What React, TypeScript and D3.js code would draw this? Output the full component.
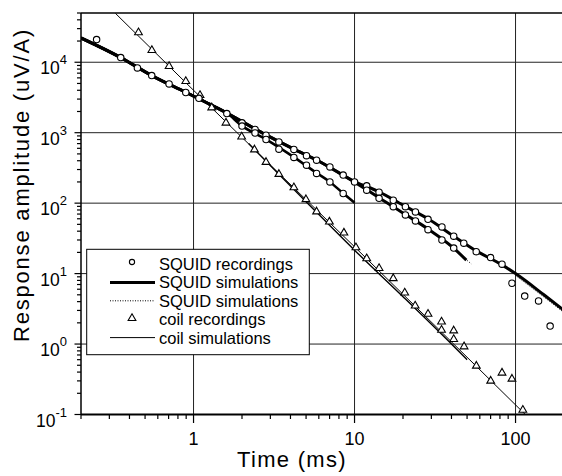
import React from 'react';
import * as d3 from 'd3';

// axis ticks
const xMajor = [1, 10, 100];
const xLabels = ['1', '10', '100'];
const yMajor = [0.1, 1, 10, 100, 1000, 10000];
const yExponents = ['-1', '0', '1', '2', '3', '4'];

// SQUID simulations (thick lines)
const squidCommon: [number, number][] = [
  [0.2, 22100], [0.353, 11650], [0.55, 6470], [0.895, 3750], [1.2, 2680], [1.61, 1900],
];
const squidLongTail: [number, number][] = [
  [2.82, 930], [4.2, 585], [5.81, 410], [10, 203], [14.2, 145], [20.7, 90], [28.6, 60],
  [41.3, 34], [57, 21], [82.4, 13.3], [100, 10], [150, 5], [200, 3],
];
const squidMidTail: [number, number][] = [
  [2.82, 930], [4.2, 585], [5.81, 410], [8.5, 250], [11.9, 155], [14.2, 119], [20.7, 69],
  [28.6, 43], [41.3, 23], [49.5, 15.5],
];
const squidShortTail: [number, number][] = [
  [2.0, 1250], [2.82, 805], [4.2, 450], [5.81, 268], [7.03, 200], [8.5, 138], [10, 101],
];
// SQUID simulations (dotted)
const squidDottedA: [number, number][] = [[100, 9.4], [150, 4.65], [200, 2.8]];
const squidDottedB: [number, number][] = [[38, 26], [53, 13.8]];

// SQUID recordings (circles)
const squidRec: [number, number][] = [
  [0.25, 21000], [0.353, 11650], [0.448, 8300], [0.55, 6470], [0.705, 4920], [0.895, 3720],
  [1.08, 3080], [1.61, 1870],
  [2.0, 1380], [2.41, 1110], [2.82, 920], [3.39, 740], [4.2, 578], [5.03, 472], [5.81, 407],
  [7.03, 327], [8.5, 250], [10, 200],
  [2.0, 1240], [2.41, 990], [2.82, 800], [3.39, 583], [4.2, 445], [5.03, 346], [5.81, 264],
  [7.03, 200], [8.5, 137],
  [11.9, 176], [14.2, 143], [17.4, 110], [20.7, 89], [23.9, 75], [28.6, 59], [34.9, 46],
  [41.3, 34], [47.7, 27], [57, 20.5], [70, 16.9], [82.4, 13.6], [95, 7.3], [114, 4.8],
  [139, 4.1], [164, 1.8],
  [11.9, 153], [14.2, 117], [17.4, 89], [20.7, 68], [23.9, 56], [28.6, 42], [34.9, 30], [41.3, 23],
];

// coil simulations
const coilSim: [number, number][] = [[0.327, 49500], [1, 4000], [10, 24], [115, 0.1]];
const coilSim2: [number, number][] = [
  [2.2, 700], [5, 105], [10, 21.5], [20, 4.7], [40, 1.0], [50, 0.6],
];

// coil recordings (triangles)
const coilRec: [number, number][] = [
  [0.455, 26400], [0.551, 14800], [0.705, 8770], [0.895, 5370], [1.097, 3400], [1.297, 2270],
  [1.59, 1380], [1.99, 877], [2.39, 574], [2.82, 382], [3.39, 258], [4.2, 167], [4.99, 113],
  [5.81, 75.7], [6.98, 54.3], [8.59, 37.9], [10.2, 23.5], [11.9, 16.4], [14.2, 11.9],
  [17.4, 8.55], [20.5, 5.35], [23.8, 3.49], [28.6, 2.67], [34.7, 2.07], [34.7, 1.58],
  [41.3, 1.55], [41.3, 1.17], [47.9, 0.92], [57.1, 0.49], [70.1, 0.3], [82.4, 0.39],
  [95, 0.32], [111, 0.116],
];

const legendItems = [
  { label: 'SQUID recordings', kind: 'circle' },
  { label: 'SQUID simulations', kind: 'thick' },
  { label: 'SQUID simulations', kind: 'dotted' },
  { label: 'coil recordings', kind: 'triangle' },
  { label: 'coil simulations', kind: 'thin' },
];

const W = 562;
const H = 476;
const font = '"Liberation Sans", Arial, Helvetica, sans-serif';

const App = () => {
  const x = d3.scaleLog().domain([0.2, 200]).range([81, 564]);
  const y = d3.scaleLog().domain([0.1, 5e4]).range([414.5, 13]);
  const [x0, x1] = x.range();
  const [y0, y1] = y.range();

  const line = d3
    .line<[number, number]>()
    .x(d => x(d[0]))
    .y(d => y(d[1]))
    .curve(d3.curveMonotoneX);

  const xMinor: number[] = [];
  [0.1, 1, 10, 100].forEach(dec => {
    for (let k = 2; k <= 9; k++) {
      const v = dec * k;
      if (v >= 0.2 && v <= 200) xMinor.push(v);
    }
  });
  const yMinor: number[] = [];
  [0.1, 1, 10, 100, 1000, 10000].forEach(dec => {
    for (let k = 2; k <= 9; k++) {
      const v = dec * k;
      if (v <= 5e4) yMinor.push(v);
    }
  });

  const tri = d3.symbol().type(d3.symbolTriangle).size(26)();

  const legX = 86.7, legY = 249.3, legW = 222.6, legH = 105.4;
  const rowY = (i: number) => 264 + i * 18.4;

  return (
    <div style={{ position: 'absolute', left: 0, top: 0 }}>
      <svg width={W} height={H} style={{ display: 'block', background: '#fff' }}>
        <defs>
          <clipPath id="plot">
            <rect x={x0} y={y1} width={x1 - x0} height={y0 - y1} />
          </clipPath>
        </defs>

        {/* grid */}
        <g stroke="#222" strokeWidth={1}>
          {xMajor.map(v => (
            <line key={'gx' + v} x1={x(v)} x2={x(v)} y1={y1} y2={y0} />
          ))}
          {yMajor.slice(1).map(v => (
            <line key={'gy' + v} x1={x0} x2={x1} y1={y(v)} y2={y(v)} />
          ))}
        </g>

        {/* frame */}
        <line x1={x0} x2={x1} y1={y1} y2={y1} stroke="#000" strokeWidth={1.5} />
        <line x1={x0} x2={x0} y1={y1} y2={y0} stroke="#000" strokeWidth={1.5} />
        <line x1={x0} x2={x1} y1={y0} y2={y0} stroke="#000" strokeWidth={1.8} />

        {/* ticks */}
        <g stroke="#000" strokeWidth={1.2}>
          {xMinor.map(v => (
            <line key={'xm' + v} x1={x(v)} x2={x(v)} y1={y0} y2={y0 + 4.5} />
          ))}
          {xMajor.map(v => (
            <line key={'xM' + v} x1={x(v)} x2={x(v)} y1={y0} y2={y0 + 8.5} />
          ))}
          {yMinor.map(v => (
            <line key={'ym' + v} x1={x0} x2={x0 - 4} y1={y(v)} y2={y(v)} />
          ))}
          {yMajor.map(v => (
            <line key={'yM' + v} x1={x0} x2={x0 - 6.5} y1={y(v)} y2={y(v)} />
          ))}
        </g>

        {/* tick labels */}
        <g fontFamily={font} fill="#000">
          {xMajor.map((v, i) => (
            <text key={'xl' + v} x={x(v)} y={445} fontSize={18} textAnchor="middle">
              {xLabels[i]}
            </text>
          ))}
          {yMajor.map((v, i) => (
            <text key={'yl' + v} x={67} y={y(v) + 12} textAnchor="end">
              <tspan fontSize={17.5}>10</tspan>
              <tspan fontSize={13} dy={-10}>{yExponents[i]}</tspan>
            </text>
          ))}
        </g>

        {/* axis titles */}
        <text
          x={292}
          y={467}
          fontFamily={font}
          fontSize={22}
          letterSpacing={1.3}
          textAnchor="middle"
        >
          Time (ms)
        </text>
        <text
          transform="translate(29,185) rotate(-90)"
          fontFamily={font}
          fontSize={22}
          letterSpacing={1.8}
          textAnchor="middle"
        >
          Response amplitude (uV/A)
        </text>

        {/* data */}
        <g clipPath="url(#plot)" fill="none">
          <path d={line(coilSim) || ''} stroke="#000" strokeWidth={1} />
          <path d={line(coilSim2) || ''} stroke="#000" strokeWidth={1.4} />
          <path d={line(squidCommon.concat(squidLongTail)) || ''} stroke="#000" strokeWidth={3} />
          <path d={line(squidCommon.concat(squidMidTail)) || ''} stroke="#000" strokeWidth={3} />
          <path d={line(squidCommon.concat(squidShortTail)) || ''} stroke="#000" strokeWidth={2.6} />
          <path d={line(squidDottedA) || ''} stroke="#000" strokeWidth={1} strokeDasharray="1 1.5" />
          <path d={line(squidDottedB) || ''} stroke="#000" strokeWidth={1} strokeDasharray="1 1.5" />
          {coilRec.map((d, i) => (
            <path
              key={'t' + i}
              d={tri || ''}
              transform={`translate(${x(d[0])},${y(d[1])})`}
              fill="#fff"
              stroke="#000"
              strokeWidth={1.1}
            />
          ))}
          {squidRec.map((d, i) => (
            <circle
              key={'c' + i}
              cx={x(d[0])}
              cy={y(d[1])}
              r={3.2}
              fill="#fff"
              stroke="#000"
              strokeWidth={1.1}
            />
          ))}
        </g>

        {/* legend */}
        <g>
          <rect x={legX} y={legY} width={legW} height={legH} fill="#fff" stroke="#000" strokeWidth={1} />
          {legendItems.map((it, i) => {
            const cy = rowY(i);
            return (
              <g key={'lg' + i}>
                {it.kind === 'circle' && (
                  <circle cx={132} cy={cy - 2} r={2.6} fill="#fff" stroke="#000" strokeWidth={1.1} />
                )}
                {it.kind === 'triangle' && (
                  <path d={tri || ''} transform={`translate(132,${cy - 1})`} fill="#fff" stroke="#000" strokeWidth={1.1} />
                )}
                {it.kind === 'thick' && (
                  <line x1={110} x2={155} y1={cy} y2={cy} stroke="#000" strokeWidth={3} />
                )}
                {it.kind === 'dotted' && (
                  <line x1={110} x2={155} y1={cy} y2={cy} stroke="#000" strokeWidth={1} strokeDasharray="1 1.5" />
                )}
                {it.kind === 'thin' && (
                  <line x1={110} x2={155} y1={cy} y2={cy} stroke="#000" strokeWidth={1} />
                )}
                <text x={159} y={cy + 6} fontFamily={font} fontSize={16.5} fill="#000">
                  {it.label}
                </text>
              </g>
            );
          })}
        </g>
      </svg>
    </div>
  );
};

export default App;
